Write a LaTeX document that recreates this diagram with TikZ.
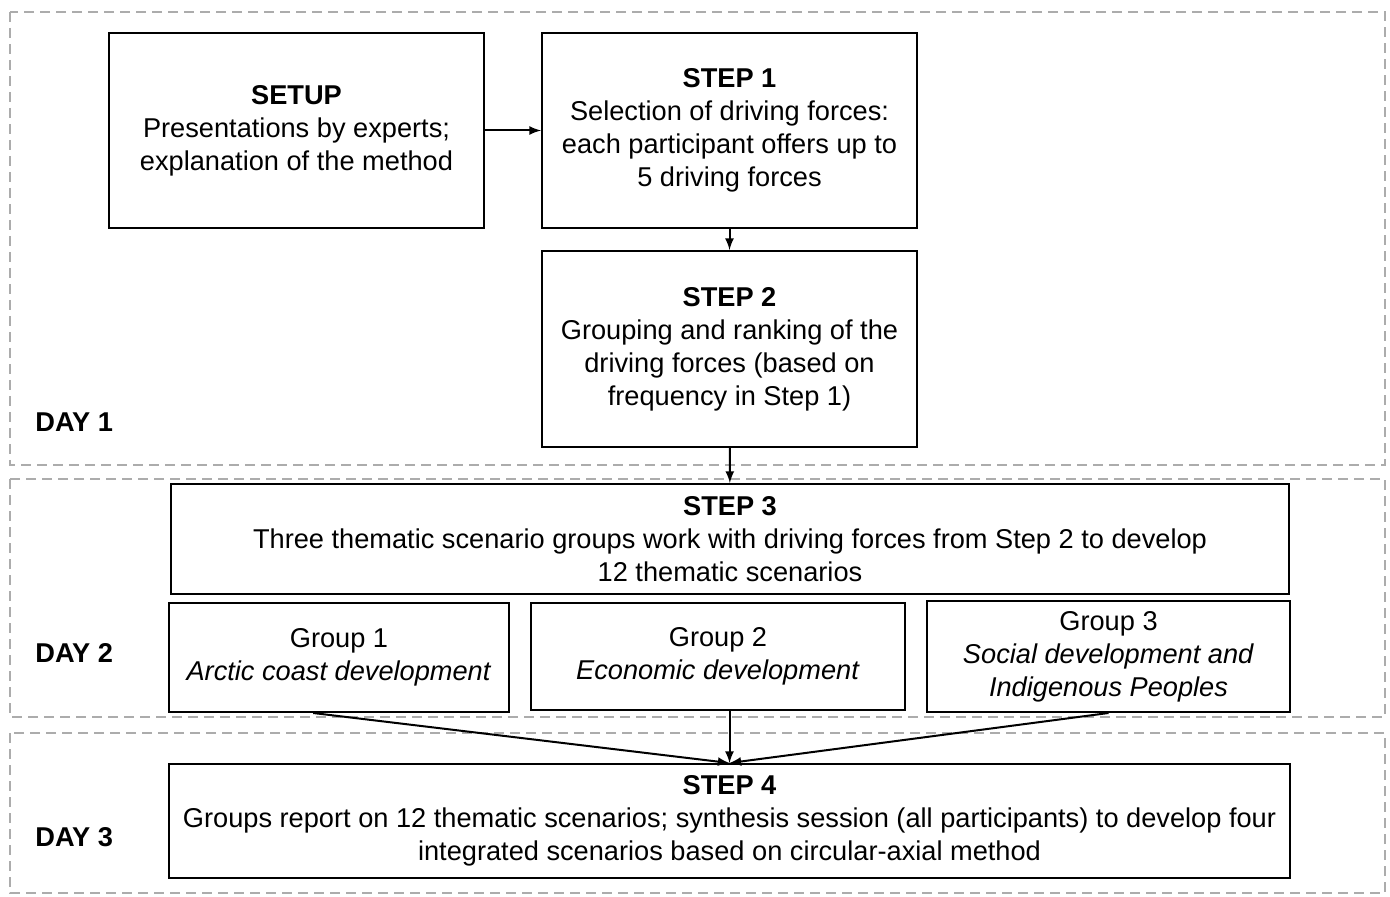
\documentclass[tikz,border=0pt]{standalone}
\usepackage{fontspec}
\setmainfont{Liberation Sans}
\begin{document}
\begin{tikzpicture}[x=0.5pt, y=-0.5pt, >=latex,
  main/.style = {draw, line width=1pt, align=center, inner sep=0pt,
    font=\fontsize{13.6}{16.5}\selectfont},
  zone/.style = {draw=gray!65, line width=1pt, dash pattern=on 5pt off 3pt},
  daylabel/.style = {anchor=west, inner sep=0pt, font=\fontsize{13.6}{16.5}\selectfont\bfseries},
  link/.style = {->, line width=1pt}]
\useasboundingbox (0,0) rectangle (1390,897);
% days
\draw[zone] (10,12) rectangle (1385,465);
\draw[zone] (10,479) rectangle (1385,717);
\draw[zone] (10,733) rectangle (1385,893);
\node[daylabel] (d1) at (35,422) {DAY 1};
\node[daylabel] (d2) at (35,653) {DAY 2};
\node[daylabel] (d3) at (35,837) {DAY 3};
% steps
\node[main, minimum width=187.5pt, minimum height=97.5pt] (1) at (296.5,130.5)
  {\textbf{SETUP}\\Presentations by experts;\\explanation of the method};
\node[main, minimum width=187.5pt, minimum height=97.5pt] (2) at (729.5,130.5)
  {\textbf{STEP 1}\\Selection of driving forces:\\each participant offers up to\\5 driving forces};
\node[main, minimum width=187.5pt, minimum height=98pt] (3) at (729.5,349)
  {\textbf{STEP 2}\\Grouping and ranking of the\\driving forces (based on\\frequency in Step 1)};
\node[main, minimum width=559pt, minimum height=55pt] (4) at (730,539)
  {\textbf{STEP 3}\\Three thematic scenario groups work with driving forces from Step 2 to develop\\12 thematic scenarios};
\node[main, minimum width=170pt, minimum height=54.5pt] (5) at (339,657.5)
  {Group 1\\\textit{Arctic coast development}};
\node[main, minimum width=187pt, minimum height=53.5pt] (6) at (718,656.5)
  {Group 2\\\textit{Economic development}};
\node[main, minimum width=181.5pt, minimum height=55.5pt] (7) at (1108.5,656.5)
  {Group 3\\\textit{Social development and}\\\textit{Indigenous Peoples}};
\node[main, minimum width=560.5pt, minimum height=57pt] (8) at (729.5,821)
  {\textbf{STEP 4}\\Groups report on 12 thematic scenarios; synthesis session (all participants) to develop four\\integrated scenarios based on circular-axial method};
\draw[link] (1) -- (2);
\draw[link] (2) -- (3);
\draw[link] (3) -- (4);
\draw[link] (5.-115) -- (8.north);
\draw[link] (6.south -| 8.north) -- (8.north);
\draw[link] (7.south) -- (8.north);
\end{tikzpicture}
\end{document}
